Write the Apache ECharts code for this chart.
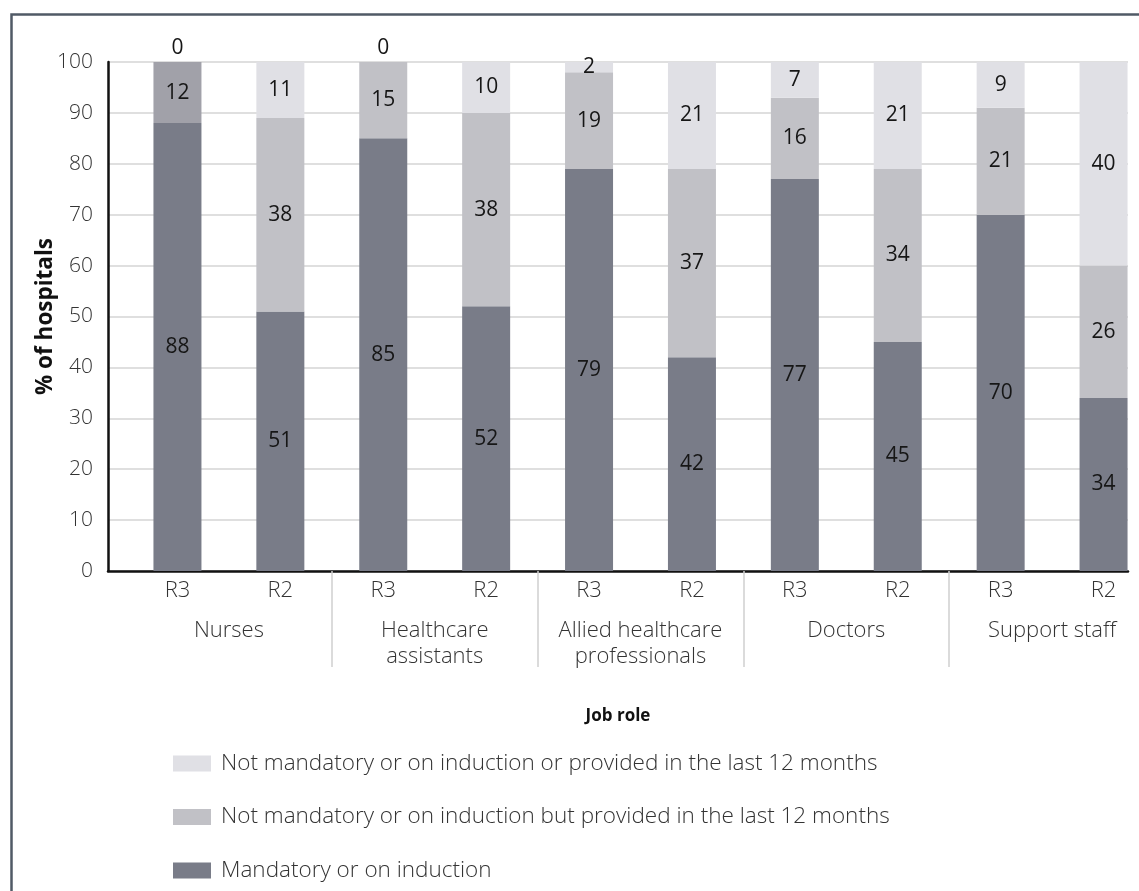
<!DOCTYPE html>
<html>
<head>
<meta charset="utf-8">
<script src="https://cdn.jsdelivr.net/npm/echarts@6/dist/echarts.min.js"></script>
<style>
html,body{margin:0;padding:0;background:#fff;}
#chart{width:1139px;height:891px;}
</style>
</head>
<body>
<div id="chart"></div>
<script>
// ---- data ----
const rounds = ['R3','R2','R3','R2','R3','R2','R3','R2','R3','R2'];
const jobRoles = ['Nurses','Healthcare\nassistants','Allied healthcare\nprofessionals','Doctors','Support staff'];
const seriesNames = [
  'Mandatory or on induction',
  'Not mandatory or on induction but provided in the last 12 months',
  'Not mandatory or on induction or provided in the last 12 months'
];
const mandatory = [88,51,85,52,79,42,77,45,70,34];
const providedNotMandatory = [12,38,15,38,19,37,16,34,21,26];
const notProvided = [0,11,0,10,2,21,7,21,9,40];
const yTicks = [0,10,20,30,40,50,60,70,80,90,100];

const COL_DARK = '#797c88', COL_MID = '#c1c1c6', COL_LIGHT = '#e0e0e5', COL_SPECIAL = '#a1a1a9';
const FONT = '"Open Sans", sans-serif';

const chart = echarts.init(document.getElementById('chart'), null, {renderer:'canvas'});

const labelStyle = {show:true, position:'inside', color:'#161616', fontSize:21, fontWeight:500, fontFamily:FONT};

const midData = providedNotMandatory.map((v,i) => i===0 ? {value:v, itemStyle:{color:COL_SPECIAL}} : v);
const topData = notProvided.map(v => v===0 ? {value:v, label:{position:'top', distance:3}} : v);

const option = {
  animation:false,
  backgroundColor:'#fff',
  textStyle:{fontFamily:FONT},
  grid:[
    {left:126, right:-16, top:62, bottom:320, containLabel:false, outerBoundsMode:'none'},
    {left:108, right:11, top:62, bottom:320, containLabel:false, outerBoundsMode:'none'}
  ],
  legend:{
    orient:'vertical', left:168, top:747, height:220,
    itemWidth:38, itemHeight:16, itemGap:30.5, icon:'rect',
    data:[seriesNames[2], seriesNames[1], seriesNames[0]],
    textStyle:{fontSize:22.5, color:'#333', fontWeight:300, fontFamily:FONT, padding:[0,0,0,5]}
  },
  xAxis:[
    {type:'category', gridIndex:0, data:rounds, axisLine:{show:false}, axisTick:{show:false},
     axisLabel:{margin:9, fontSize:22, color:'#333', fontWeight:300, fontFamily:FONT, interval:0}},
    {type:'category', gridIndex:0, data:jobRoles, position:'bottom', axisLine:{show:false},
     axisTick:{show:true, length:96, lineStyle:{color:'#cfcfcf', width:1.5}, interval:(i)=>i>0},
     axisLabel:{margin:47, fontSize:22, color:'#333', fontWeight:300, fontFamily:FONT, lineHeight:26, interval:0}},
    {type:'category', gridIndex:1, data:rounds, axisLine:{show:true, lineStyle:{color:'#111', width:2.5}},
     axisTick:{show:false}, axisLabel:{show:false},
     name:'Job role', nameLocation:'middle', nameGap:137, nameMoveOverlap:false,
     nameTextStyle:{fontSize:17, fontWeight:'bold', color:'#111', fontFamily:FONT}}
  ],
  yAxis:[
    {type:'value', gridIndex:0, min:0, max:100, interval:10, show:false},
    {type:'value', gridIndex:1, min:0, max:100, interval:10,
     axisLine:{show:true, lineStyle:{color:'#111', width:2.5}}, axisTick:{show:false},
     splitLine:{show:true, lineStyle:{color:'#d4d4d4', width:1.5}},
     axisLabel:{margin:15, fontSize:21, color:'#333', fontWeight:300, fontFamily:FONT,
       formatter:(v)=> yTicks.includes(v) ? String(v) : ''},
     name:'% of hospitals', nameLocation:'middle', nameGap:51, nameRotate:90, nameMoveOverlap:false,
     nameTextStyle:{fontSize:22.5, fontWeight:'bold', color:'#111', fontFamily:FONT}}
  ],
  series:[
    {name:seriesNames[0], type:'bar', stack:'s', xAxisIndex:0, yAxisIndex:0, barWidth:48,
     itemStyle:{color:COL_DARK}, label:labelStyle, data:mandatory},
    {name:seriesNames[1], type:'bar', stack:'s', xAxisIndex:0, yAxisIndex:0, barWidth:48,
     itemStyle:{color:COL_MID}, label:labelStyle, data:midData},
    {name:seriesNames[2], type:'bar', stack:'s', xAxisIndex:0, yAxisIndex:0, barWidth:48,
     itemStyle:{color:COL_LIGHT}, label:labelStyle, data:topData}
  ],
  graphic:[
    {type:'rect', left:9, top:12, shape:{x:0,y:0,width:1300,height:1000},
     style:{fill:'none', stroke:'#505a66', lineWidth:2.5}, silent:true, z:100}
  ]
};
chart.setOption(option);
</script>
</body>
</html>
